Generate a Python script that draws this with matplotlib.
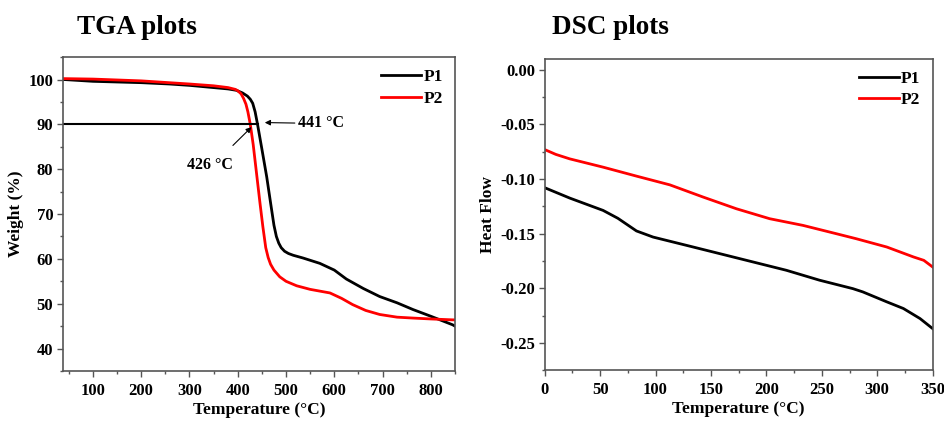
import matplotlib
matplotlib.use("Agg")
import matplotlib.pyplot as plt
from matplotlib.ticker import MultipleLocator, FormatStrFormatter

plt.rcParams['font.family'] = ['Liberation Serif', 'DejaVu Serif']
plt.rcParams['font.weight'] = 'bold'
plt.rcParams['axes.unicode_minus'] = False

# TGA data
tga_p1_T = [40, 100, 200, 259, 300, 350, 380, 397, 410, 420, 426, 431, 436, 441, 450, 460, 468, 475, 480, 485, 490, 497, 505, 515, 535, 570, 600, 625, 660, 694, 730, 763, 800, 845, 850]
tga_p1_w = [100.0, 99.6, 99.3, 99.0, 98.7, 98.2, 97.9, 97.6, 97.0, 96.3, 95.6, 94.7, 92.8, 90.0, 84.5, 78.3, 72.5, 67.5, 65.0, 63.5, 62.5, 61.7, 61.2, 60.8, 60.2, 59.0, 57.5, 55.5, 53.4, 51.6, 50.2, 48.7, 47.2, 45.3, 45.0]
tga_p2_T = [40, 100, 200, 300, 350, 380, 395, 400, 407, 412, 417, 421, 426, 432, 439, 446, 452, 458, 463, 468, 475, 487, 500, 522, 550, 591, 615, 638, 665, 694, 730, 763, 800, 845, 850]
tga_p2_w = [100.2, 100.1, 99.7, 99.0, 98.6, 98.2, 97.8, 97.5, 96.8, 95.8, 94.5, 92.8, 90.0, 85.5, 79.0, 72.5, 67.2, 62.5, 60.3, 58.8, 57.5, 56.0, 55.0, 54.0, 53.2, 52.4, 51.2, 49.8, 48.5, 47.6, 47.0, 46.8, 46.6, 46.4, 46.4]

# DSC data
dsc_p1_T = [0, 22.6, 52.7, 66, 82.8, 97.8, 128, 158, 188, 218, 248, 278, 287, 308.6, 323.6, 338.6, 350]
dsc_p1_h = [-0.108, -0.1175, -0.1288, -0.136, -0.1476, -0.1532, -0.1608, -0.1684, -0.176, -0.1836, -0.1927, -0.2004, -0.2034, -0.2125, -0.2186, -0.2278, -0.237]
dsc_p2_T = [0, 10, 22.6, 52.7, 82.8, 112.9, 143, 173, 203, 233, 263, 281, 308.6, 332.7, 342, 350]
dsc_p2_h = [-0.0731, -0.0775, -0.0816, -0.0892, -0.0974, -0.1054, -0.1166, -0.1273, -0.1364, -0.1425, -0.1501, -0.1547, -0.1623, -0.1714, -0.1745, -0.1806]

labels = ['P1', 'P2']
colors = ['black', '#ff0000']

fig = plt.figure(figsize=(9.44, 4.23), dpi=100)
ax1 = fig.add_axes([0.0667, 0.123, 0.4153, 0.742])
ax2 = fig.add_axes([0.577, 0.125, 0.411, 0.736])

lw = 2.0
ax1.plot(tga_p1_T, tga_p1_w, color=colors[0], lw=lw, label=labels[0])
ax1.plot(tga_p2_T, tga_p2_w, color=colors[1], lw=lw, label=labels[1])
ax1.plot([38, 441], [90, 90], color='black', lw=1.5)
ax1.set_xlim(38, 850)
ax1.set_ylim(35, 105)
ax1.xaxis.set_minor_locator(MultipleLocator(50))
ax1.yaxis.set_minor_locator(MultipleLocator(5))
ax1.set_xticks([100, 200, 300, 400, 500, 600, 700, 800])
ax1.set_yticks([40, 50, 60, 70, 80, 90, 100])
ax1.set_xlabel('Temperature (°C)', fontsize=12.5, fontweight='bold', labelpad=2)
ax1.set_ylabel('Weight (%)', fontsize=12.5, fontweight='bold', labelpad=3)
ax1.annotate('441 °C', xy=(456, 90.4), xytext=(524, 90.2), fontsize=11.5, fontweight='bold',
             va='center', ha='left',
             arrowprops=dict(arrowstyle='-|>', color='black', lw=0.8, mutation_scale=8, shrinkA=0, shrinkB=0))
ax1.annotate('426 °C', xy=(428.6, 89.4), xytext=(342, 81.0), fontsize=11.5, fontweight='bold',
             va='center', ha='center', arrowprops=None)
ax1.annotate('', xy=(428.6, 89.4), xytext=(390, 85.3),
             arrowprops=dict(arrowstyle='-|>', color='black', lw=0.8, mutation_scale=8, shrinkA=0, shrinkB=0))

ax2.plot(dsc_p1_T, dsc_p1_h, color=colors[0], lw=lw, label=labels[0])
ax2.plot(dsc_p2_T, dsc_p2_h, color=colors[1], lw=lw, label=labels[1])
ax2.set_xlim(0, 350)
ax2.set_ylim(-0.275, 0.01)
ax2.xaxis.set_major_locator(MultipleLocator(50))
ax2.xaxis.set_minor_locator(MultipleLocator(25))
ax2.yaxis.set_minor_locator(MultipleLocator(0.025))
ax2.set_yticks([0.0, -0.05, -0.10, -0.15, -0.20, -0.25])
ax2.yaxis.set_major_formatter(FormatStrFormatter('%.2f'))
ax2.set_xlabel('Temperature (°C)', fontsize=12.5, fontweight='bold', labelpad=2)
ax2.set_ylabel('Heat Flow', fontsize=12.5, fontweight='bold', labelpad=3)

for ax in (ax1, ax2):
    for s in ax.spines.values():
        s.set_color('#555555')
        s.set_linewidth(1.2)
    ax.tick_params(which='major', direction='out', length=4, width=1.0, color='#555555', labelsize=12, pad=3)
    ax.tick_params(axis='x', which='major', pad=4.5)
    ax.tick_params(which='minor', direction='out', length=2.5, width=1.0, color='#555555')
    ax.tick_params(top=False, right=False, which='both')
    for t in ax.get_xticklabels() + ax.get_yticklabels():
        t.set_fontweight('bold')
    leg = ax.legend(loc='upper right', frameon=False, fontsize=12.5, handlelength=2.3,
                    handletextpad=0.15, borderaxespad=0.3, labelspacing=0.3)
    for t in leg.get_texts():
        t.set_fontweight('bold')

fig.text(0.0816, 0.936, 'TGA plots', fontsize=19.5, fontweight='bold', ha='left', va='center')
fig.text(0.585, 0.936, 'DSC plots', fontsize=19.5, fontweight='bold', ha='left', va='center')

fig.savefig('out.png', dpi=100)
